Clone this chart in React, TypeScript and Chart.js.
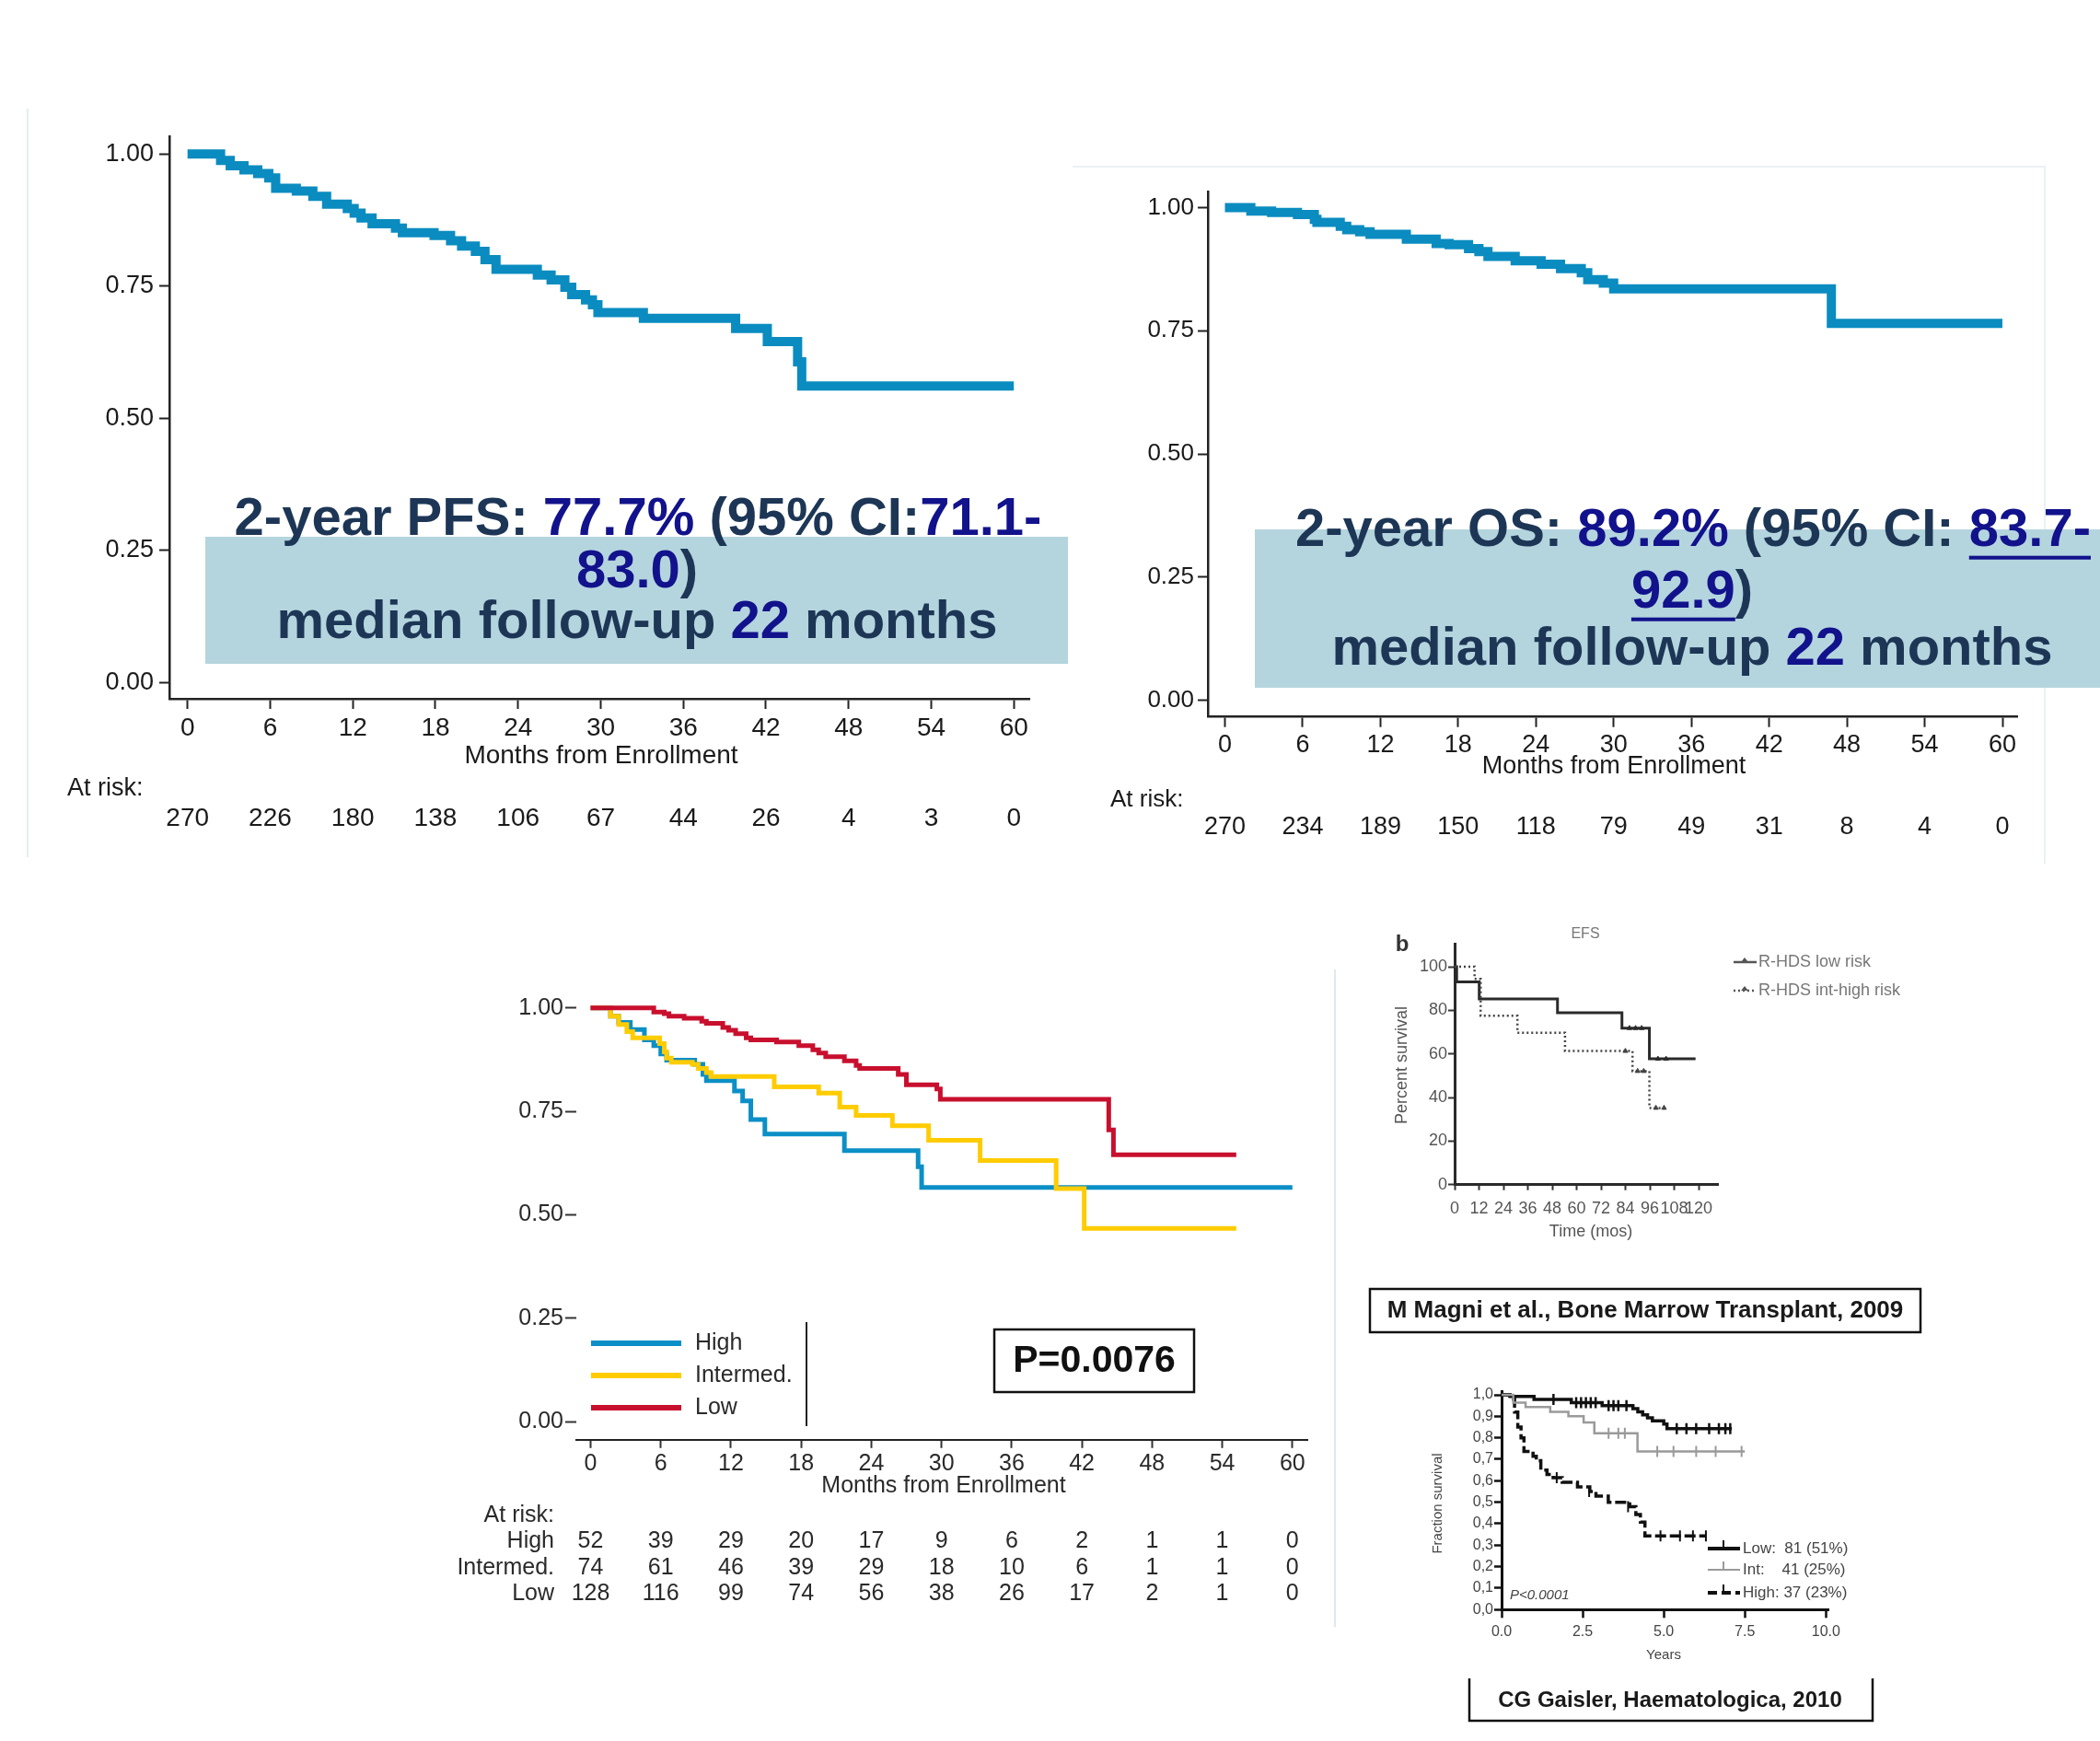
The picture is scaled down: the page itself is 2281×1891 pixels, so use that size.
import React, { useEffect, useRef } from 'react';
import { Chart, registerables } from 'chart.js';

Chart.register(...registerables);

const FONT = "'Liberation Sans', Arial, Helvetica, sans-serif";

// ---------------- data ----------------
const MONTH_TICKS = [0, 6, 12, 18, 24, 30, 36, 42, 48, 54, 60];
const MONTH_LABELS = ['0', '6', '12', '18', '24', '30', '36', '42', '48', '54', '60'];
const SURV_TICKS = [0, 0.25, 0.5, 0.75, 1];
const SURV_LABELS = ['0.00', '0.25', '0.50', '0.75', '1.00'];

const PFS_T = [0, 1.9, 2.4, 3.1, 4.1, 5.1, 5.9, 6.4, 7.9, 9.1, 10.1, 11.6, 12.1, 12.6, 13.4, 15.1, 15.6, 17.9, 19.1, 19.9, 20.9, 21.6, 22.4, 25.4, 26.4, 27.4, 27.9, 28.9, 29.4, 29.8, 33.1, 39.8, 42.1, 44.3, 44.6, 60];
const PFS_S = [1, 1, 0.988, 0.978, 0.97, 0.963, 0.955, 0.935, 0.93, 0.92, 0.905, 0.897, 0.888, 0.879, 0.868, 0.86, 0.851, 0.846, 0.836, 0.826, 0.816, 0.8, 0.782, 0.771, 0.762, 0.748, 0.734, 0.724, 0.715, 0.7, 0.689, 0.67, 0.645, 0.607, 0.561, 0.561];
const PFS_AT_RISK = [270, 226, 180, 138, 106, 67, 44, 26, 4, 3, 0];

const OS_T = [0, 2.0, 3.6, 5.6, 6.9, 7.1, 8.9, 9.4, 10.4, 11.2, 14.0, 16.3, 17.3, 18.8, 19.6, 20.3, 22.4, 24.4, 25.9, 27.5, 28.0, 29.2, 30.0, 46.8, 60];
const OS_S = [1, 0.993, 0.99, 0.986, 0.976, 0.97, 0.962, 0.955, 0.951, 0.946, 0.936, 0.927, 0.925, 0.917, 0.911, 0.901, 0.892, 0.885, 0.876, 0.868, 0.854, 0.847, 0.835, 0.765, 0.765];
const OS_AT_RISK = [270, 234, 189, 150, 118, 79, 49, 31, 8, 4, 0];

const RISK_GROUPS = ['High', 'Intermed.', 'Low'];
const HIGH_T = [0, 1.7, 2.4, 3.4, 4.6, 5.4, 6.0, 6.5, 8.9, 9.6, 9.9, 12.3, 13.0, 13.7, 14.9, 21.7, 28.0, 28.3, 60];
const HIGH_S = [1, 0.98, 0.965, 0.948, 0.923, 0.909, 0.889, 0.874, 0.864, 0.839, 0.824, 0.799, 0.775, 0.73, 0.695, 0.655, 0.616, 0.566, 0.566];
const INTER_T = [0, 1.7, 2.4, 3.1, 3.6, 5.9, 6.3, 6.5, 6.9, 8.7, 9.2, 9.9, 10.3, 15.7, 19.5, 21.3, 22.7, 25.8, 28.9, 33.3, 39.8, 42.2, 55.2];
const INTER_S = [1, 0.98, 0.96, 0.943, 0.928, 0.914, 0.894, 0.879, 0.869, 0.864, 0.854, 0.844, 0.834, 0.809, 0.794, 0.76, 0.74, 0.715, 0.68, 0.631, 0.563, 0.467, 0.467];
const LOW_T = [0, 5.4, 6.3, 6.7, 8.0, 9.5, 9.9, 11.3, 11.8, 12.4, 13.3, 13.7, 15.9, 17.8, 19.0, 19.5, 20.1, 21.7, 22.7, 23.0, 26.3, 27.0, 29.6, 29.9, 44.3, 44.7, 55.2];
const LOW_S = [1, 0.99, 0.986, 0.98, 0.975, 0.968, 0.963, 0.953, 0.946, 0.938, 0.928, 0.923, 0.918, 0.909, 0.899, 0.891, 0.882, 0.872, 0.861, 0.854, 0.839, 0.814, 0.804, 0.779, 0.705, 0.645, 0.645];
const RISK_HIGH = [52, 39, 29, 20, 17, 9, 6, 2, 1, 1, 0];
const RISK_INTER = [74, 61, 46, 39, 29, 18, 10, 6, 1, 1, 0];
const RISK_LOW = [128, 116, 99, 74, 56, 38, 26, 17, 2, 1, 0];
const P_VALUE = 'P=0.0076';

const EFS_X_TICKS = [0, 12, 24, 36, 48, 60, 72, 84, 96, 108, 120];
const EFS_X_LABELS = ['0', '12', '24', '36', '48', '60', '72', '84', '96', '108', '120'];
const EFS_Y_TICKS = [0, 20, 40, 60, 80, 100];
const EFS_Y_LABELS = ['0', '20', '40', '60', '80', '100'];
const EFS_LOW_T = [0, 1, 12.1, 50.6, 82.3, 95.8, 118.5];
const EFS_LOW_S = [100, 93, 85.2, 78.9, 71.8, 57.7, 57.7];
const EFS_INT_T = [0, 9.8, 12.8, 30.9, 54.3, 87.5, 95.8, 103.4];
const EFS_INT_S = [100, 94.4, 77.5, 69.7, 61.3, 52.1, 35.2, 35.2];
const EFS_LOW_CENS_T = [86, 89, 92, 100, 104];
const EFS_LOW_CENS_S = [71.8, 71.8, 71.8, 57.7, 57.7];
const EFS_INT_CENS_T = [84, 90, 93, 99, 103];
const EFS_INT_CENS_S = [61.3, 52.1, 52.1, 35.2, 35.2];
const EFS_LEGEND = ['R-HDS low risk', 'R-HDS int-high risk'];

const GAI_X_TICKS = [0, 2.5, 5, 7.5, 10];
const GAI_X_LABELS = ['0.0', '2.5', '5.0', '7.5', '10.0'];
const GAI_Y_TICKS = [0, 0.1, 0.2, 0.3, 0.4, 0.5, 0.6, 0.7, 0.8, 0.9, 1];
const GAI_Y_LABELS = ['0,0', '0,1', '0,2', '0,3', '0,4', '0,5', '0,6', '0,7', '0,8', '0,9', '1,0'];
const GAI_LOW_T = [0, 0.26, 1.0, 2.15, 3.1, 4.05, 4.2, 4.35, 4.5, 4.65, 5.0, 5.1, 7.1];
const GAI_LOW_S = [1, 0.993, 0.979, 0.964, 0.95, 0.936, 0.921, 0.907, 0.893, 0.879, 0.864, 0.843, 0.843];
const GAI_INT_T = [0, 0.36, 0.74, 1.5, 2.06, 2.53, 2.86, 4.19, 7.5];
const GAI_INT_S = [1, 0.964, 0.943, 0.921, 0.9, 0.871, 0.821, 0.736, 0.736];
const GAI_HIGH_T = [0, 0.26, 0.4, 0.5, 0.6, 0.69, 0.97, 1.07, 1.21, 1.4, 1.59, 1.87, 2.34, 2.72, 2.91, 3.29, 3.95, 4.14, 4.28, 4.42, 6.3];
const GAI_HIGH_S = [1, 0.98, 0.92, 0.85, 0.8, 0.736, 0.714, 0.693, 0.65, 0.629, 0.614, 0.593, 0.571, 0.55, 0.529, 0.5, 0.479, 0.443, 0.407, 0.343, 0.343];
const GAI_LOW_CENS_T = [1.6, 2.3, 2.45, 2.6, 2.75, 2.9, 3.3, 3.45, 3.6, 3.85, 5.4, 5.7, 6.0, 6.4, 6.7, 6.9, 7.05];
const GAI_LOW_CENS_S = [0.979, 0.964, 0.964, 0.964, 0.964, 0.964, 0.95, 0.95, 0.95, 0.95, 0.843, 0.843, 0.843, 0.843, 0.843, 0.843, 0.843];
const GAI_INT_CENS_T = [3.3, 3.6, 3.8, 4.8, 5.3, 6.0, 6.6, 7.4];
const GAI_INT_CENS_S = [0.821, 0.821, 0.821, 0.736, 0.736, 0.736, 0.736, 0.736];
const GAI_HIGH_CENS_T = [1.7, 2.7, 3.9, 4.9, 5.5, 5.9, 6.3];
const GAI_HIGH_CENS_S = [0.614, 0.55, 0.479, 0.343, 0.343, 0.343, 0.343];
const GAI_LEGEND = ['Low:  81 (51%)', 'Int:    41 (25%)', 'High: 37 (23%)'];

// ---------------- helpers ----------------
type Box = { x: number; y: number; w: number; h: number };
type Area = { l: number; t: number; r: number; b: number };

const SLATE = '#1d3656';
const NAVY = '#12128c';

function km(T: number[], S: number[]) {
  return T.map((t, i) => ({ x: t, y: S[i] }));
}

// axis boxes fill all space left of / below the plot area so their labels are not clipped
function padding(box: Box, a: Area) {
  return { left: 0, top: a.t - box.y, right: box.x + box.w - a.r, bottom: 0 };
}

function axis(o: any) {
  return {
    type: 'linear',
    position: o.pos,
    min: o.min,
    max: o.max,
    afterFit: (s: any) => {
      if (o.pos === 'left') s.width = o.space;
      else s.height = o.space;
    },
    afterBuildTicks: (s: any) => {
      s.ticks = o.ticks.map((v: number) => ({ value: v }));
    },
    ticks: {
      autoSkip: false,
      maxRotation: 0,
      minRotation: 0,
      padding: o.pad,
      color: o.color,
      font: { family: FONT, size: o.size, style: o.style || 'normal' },
      callback: (_v: any, i: number) => o.labels[i],
    },
    grid: {
      display: true,
      drawOnChartArea: false,
      drawTicks: true,
      tickLength: o.tickLen,
      tickWidth: o.tickWidth,
      tickColor: o.tickColor,
      color: o.tickColor,
    },
    border: { display: o.border !== false, color: o.borderColor, width: o.borderWidth },
  };
}

function txt(ctx: CanvasRenderingContext2D, s: string, x: number, y: number, size: number, o: any = {}) {
  ctx.font = `${o.style || 'normal'} ${o.weight || 'normal'} ${size}px ${FONT}`;
  ctx.fillStyle = o.color || '#222';
  ctx.textAlign = o.align || 'center';
  ctx.textBaseline = o.baseline || 'middle';
  ctx.fillText(s, x, y);
}

function rich(ctx: CanvasRenderingContext2D, segs: { t: string; c: string; u?: boolean }[], cx: number, y: number, size: number) {
  ctx.font = `bold ${size}px ${FONT}`;
  const widths = segs.map((s) => ctx.measureText(s.t).width);
  const total = widths.reduce((a, b) => a + b, 0);
  let x = cx - total / 2;
  ctx.textAlign = 'left';
  ctx.textBaseline = 'middle';
  segs.forEach((s, i) => {
    ctx.fillStyle = s.c;
    ctx.fillText(s.t, x, y);
    if (s.u) ctx.fillRect(x, y + size * 0.46, widths[i], Math.max(3, size * 0.07));
    x += widths[i];
  });
}

function line(ctx: CanvasRenderingContext2D, x1: number, y1: number, x2: number, y2: number, color: string, w: number, dash: number[] = []) {
  ctx.save();
  ctx.strokeStyle = color;
  ctx.lineWidth = w;
  ctx.setLineDash(dash);
  ctx.beginPath();
  ctx.moveTo(x1, y1);
  ctx.lineTo(x2, y2);
  ctx.stroke();
  ctx.restore();
}

function baseOptions(box: Box, area: Area, scales: any) {
  return {
    animation: false,
    responsive: false,
    devicePixelRatio: 1,
    events: [],
    layout: { padding: padding(box, area) },
    plugins: { legend: { display: false }, tooltip: { enabled: false } },
    scales,
  };
}

function stepDs(T: number[], S: number[], color: string, width: number, dash: number[] = []) {
  return {
    type: 'line',
    data: km(T, S),
    stepped: true,
    borderColor: color,
    borderWidth: width,
    borderDash: dash,
    pointRadius: 0,
    fill: false,
    borderJoinStyle: 'miter',
    borderCapStyle: 'butt',
  };
}

function censDs(T: number[], S: number[], color: string, style: string, radius: number, rot: number, bw: number) {
  return {
    type: 'scatter',
    data: km(T, S),
    showLine: false,
    pointStyle: style,
    pointRadius: radius,
    rotation: rot,
    borderColor: color,
    backgroundColor: color,
    borderWidth: bw,
  };
}

function extras(box: Box, draw: (ctx: CanvasRenderingContext2D, X: (v: number) => number, Y: (v: number) => number) => void) {
  return {
    id: 'extras',
    afterDraw(chart: any) {
      const ctx = chart.ctx as CanvasRenderingContext2D;
      ctx.save();
      ctx.translate(-box.x, -box.y);
      const X = (v: number) => chart.scales.x.getPixelForValue(v) + box.x;
      const Y = (v: number) => chart.scales.y.getPixelForValue(v) + box.y;
      draw(ctx, X, Y);
      ctx.restore();
    },
  };
}

function ChartPanel({ box, make }: { box: Box; make: () => any }) {
  const ref = useRef<HTMLCanvasElement>(null);
  useEffect(() => {
    const chart = new Chart(ref.current as HTMLCanvasElement, make());
    return () => chart.destroy();
  }, []);
  return (
    <canvas
      ref={ref}
      width={box.w}
      height={box.h}
      style={{ position: 'absolute', left: box.x, top: box.y, width: box.w, height: box.h, pointerEvents: 'none' }}
    />
  );
}

// ---------------- panels ----------------
const KM_BLUE = '#0a8cc0';

function makePFS() {
  const box: Box = { x: 0, y: 100, w: 1165, h: 840 };
  const area: Area = { l: 184, t: 148, r: 1118, b: 759 };
  const pxm = (1101.2 - 203.7) / 60;
  const pxu = 741.4 - 167.3;
  const scales = {
    x: axis({ pos: 'bottom', space: box.y + box.h - area.b, min: (184 - 203.7) / pxm, max: 60 + (1118 - 1101.2) / pxm, ticks: MONTH_TICKS, labels: MONTH_LABELS, size: 28, color: '#1a1a1a', tickLen: 11, tickWidth: 2, tickColor: '#222', pad: 4, borderColor: '#222', borderWidth: 2.5 }),
    y: axis({ pos: 'left', space: area.l - box.x, min: -(759 - 741.4) / pxu, max: 1 + (167.3 - 148) / pxu, ticks: SURV_TICKS, labels: SURV_LABELS, size: 27, color: '#1a1a1a', tickLen: 11, tickWidth: 2, tickColor: '#222', pad: 6, borderColor: '#222', borderWidth: 2.5 }),
  };
  return {
    box,
    make: () => ({
      type: 'line',
      data: { datasets: [stepDs(PFS_T, PFS_S, KM_BLUE, 10)] },
      options: baseOptions(box, area, scales),
      plugins: [
        extras(box, (ctx, X) => {
          txt(ctx, 'Months from Enrollment', 653, 821, 28, { color: '#1a1a1a' });
          txt(ctx, 'At risk:', 73, 857, 27, { align: 'left', color: '#1a1a1a' });
          PFS_AT_RISK.forEach((n, i) => txt(ctx, String(n), X(MONTH_TICKS[i]), 889, 28, { color: '#1a1a1a' }));
          ctx.fillStyle = '#b4d5de';
          ctx.fillRect(223, 583, 937, 138);
          rich(ctx, [{ t: '2-year PFS: ', c: SLATE }, { t: '77.7%', c: NAVY }, { t: ' (95% CI:', c: SLATE }, { t: '71.1-', c: NAVY }], 693, 565, 58);
          rich(ctx, [{ t: '83.0', c: NAVY }, { t: ')', c: SLATE }], 692, 622, 58);
          rich(ctx, [{ t: 'median follow-up ', c: SLATE }, { t: '22', c: NAVY }, { t: ' months', c: SLATE }], 692, 677, 58);
        }),
      ],
    }),
  };
}

function makeOS() {
  const box: Box = { x: 1165, y: 170, w: 1116, h: 770 };
  const area: Area = { l: 1312, t: 208, r: 2191.6, b: 778.7 };
  const pxm = (2175 - 1330.5) / 60;
  const pxu = 760.7 - 225.5;
  const scales = {
    x: axis({ pos: 'bottom', space: box.y + box.h - area.b, min: (1312 - 1330.5) / pxm, max: 60 + (2191.6 - 2175) / pxm, ticks: MONTH_TICKS, labels: MONTH_LABELS, size: 27, color: '#1a1a1a', tickLen: 11, tickWidth: 2, tickColor: '#222', pad: 4, borderColor: '#222', borderWidth: 2.5 }),
    y: axis({ pos: 'left', space: area.l - box.x, min: -(778.7 - 760.7) / pxu, max: 1 + (225.5 - 208) / pxu, ticks: SURV_TICKS, labels: SURV_LABELS, size: 26, color: '#1a1a1a', tickLen: 11, tickWidth: 2, tickColor: '#222', pad: 4, borderColor: '#222', borderWidth: 2.5 }),
  };
  return {
    box,
    make: () => ({
      type: 'line',
      data: { datasets: [stepDs(OS_T, OS_S, KM_BLUE, 10)] },
      options: baseOptions(box, area, scales),
      plugins: [
        extras(box, (ctx, X) => {
          txt(ctx, 'Months from Enrollment', 1753, 833, 27, { color: '#1a1a1a' });
          txt(ctx, 'At risk:', 1206, 869, 26, { align: 'left', color: '#1a1a1a' });
          OS_AT_RISK.forEach((n, i) => txt(ctx, String(n), X(MONTH_TICKS[i]), 899, 27, { color: '#1a1a1a' }));
          ctx.fillStyle = '#b4d5de';
          ctx.fillRect(1363, 575, 918, 172);
          rich(ctx, [{ t: '2-year OS: ', c: SLATE }, { t: '89.2%', c: NAVY }, { t: ' (95% CI: ', c: SLATE }, { t: '83.7-', c: NAVY, u: true }], 1839, 577, 58);
          rich(ctx, [{ t: '92.9', c: NAVY, u: true }, { t: ')', c: SLATE }], 1838, 644, 58);
          rich(ctx, [{ t: 'median follow-up ', c: SLATE }, { t: '22', c: NAVY }, { t: ' months', c: SLATE }], 1838, 706, 58);
        }),
      ],
    }),
  };
}

const C_HIGH = '#0b8fc6';
const C_INTER = '#ffcc00';
const C_LOW = '#c8102e';

function makeRisk() {
  const box: Box = { x: 470, y: 1060, w: 980, h: 700 };
  const area: Area = { l: 626, t: 1080, r: 1420, b: 1563.8 };
  const pxm = (1403.8 - 641.5) / 60;
  const pxu = 1544 - 1094.8;
  const scales = {
    x: axis({ pos: 'bottom', space: box.y + box.h - area.b, min: (626 - 641.5) / pxm, max: 60 + (1420 - 1403.8) / pxm, ticks: MONTH_TICKS, labels: MONTH_LABELS, size: 25, color: '#2a2a2a', tickLen: 9, tickWidth: 2, tickColor: '#333', pad: 2, borderColor: '#222', borderWidth: 2 }),
    y: axis({ pos: 'left', space: area.l - box.x, min: -(1563.8 - 1544) / pxu, max: 1 + (1094.8 - 1080) / pxu, ticks: SURV_TICKS, labels: SURV_LABELS, size: 25, color: '#2a2a2a', tickLen: 12, tickWidth: 2, tickColor: '#333', pad: 2, border: false, borderColor: '#222', borderWidth: 2 }),
  };
  return {
    box,
    make: () => ({
      type: 'line',
      data: {
        datasets: [stepDs(LOW_T, LOW_S, C_LOW, 5), stepDs(INTER_T, INTER_S, C_INTER, 5), stepDs(HIGH_T, HIGH_S, C_HIGH, 5)],
      },
      options: baseOptions(box, area, scales),
      plugins: [
        extras(box, (ctx, X) => {
          const tc = '#2a2a2a';
          txt(ctx, 'Months from Enrollment', 1025, 1614, 25, { color: tc });
          txt(ctx, 'At risk:', 602, 1646, 25, { align: 'right', color: tc });
          const rows = [RISK_HIGH, RISK_INTER, RISK_LOW];
          const ys = [1674, 1703, 1731];
          rows.forEach((r, k) => {
            txt(ctx, RISK_GROUPS[k], 602, ys[k], 25, { align: 'right', color: tc });
            r.forEach((n, i) => txt(ctx, String(n), X(MONTH_TICKS[i]), ys[k], 25, { color: tc }));
          });
          // legend
          const cols = [C_HIGH, C_INTER, C_LOW];
          const ly = [1459, 1494, 1529];
          cols.forEach((c, k) => {
            line(ctx, 642, ly[k], 740, ly[k], c, 6);
            txt(ctx, RISK_GROUPS[k], 755, ly[k], 25, { align: 'left', color: tc });
          });
          line(ctx, 876, 1436, 876, 1549, '#222', 2);
          // p-value box
          ctx.strokeStyle = '#111';
          ctx.lineWidth = 2.5;
          ctx.strokeRect(1080, 1444, 217, 68);
          txt(ctx, P_VALUE, 1188.5, 1479, 41, { weight: 'bold', color: '#111' });
        }),
      ],
    }),
  };
}

function makeEFS() {
  const box: Box = { x: 1450, y: 990, w: 831, h: 470 };
  const area: Area = { l: 1580, t: 1025, r: 1866.7, b: 1286.7 };
  const pxm = (1845 - 1580) / 120;
  const pxu = (1286.7 - 1050) / 100;
  const gray = '#555';
  const scales = {
    x: axis({ pos: 'bottom', space: box.y + box.h - area.b, min: 0, max: (1866.7 - 1580) / pxm, ticks: EFS_X_TICKS, labels: EFS_X_LABELS, size: 18, color: gray, tickLen: 6, tickWidth: 2, tickColor: '#333', pad: 10, borderColor: '#2a2a2a', borderWidth: 3 }),
    y: axis({ pos: 'left', space: area.l - box.x, min: 0, max: 100 + 25 / pxu, ticks: EFS_Y_TICKS, labels: EFS_Y_LABELS, size: 18, color: gray, tickLen: 7, tickWidth: 2, tickColor: '#333', pad: 1, borderColor: '#2a2a2a', borderWidth: 3 }),
  };
  return {
    box,
    make: () => ({
      type: 'line',
      data: {
        datasets: [
          stepDs(EFS_INT_T, EFS_INT_S, '#444', 2.5, [2, 3]),
          stepDs(EFS_LOW_T, EFS_LOW_S, '#2a2a2a', 3),
          censDs(EFS_LOW_CENS_T, EFS_LOW_CENS_S, '#333', 'triangle', 3, 0, 1),
          censDs(EFS_INT_CENS_T, EFS_INT_CENS_S, '#444', 'triangle', 3, 0, 1),
        ],
      },
      options: baseOptions(box, area, scales),
      plugins: [
        extras(box, (ctx) => {
          txt(ctx, 'b', 1523, 1026, 24, { weight: 'bold', color: '#333' });
          txt(ctx, 'EFS', 1722, 1015, 16, { color: '#777' });
          txt(ctx, 'Time (mos)', 1728, 1338, 18, { color: gray });
          ctx.save();
          ctx.translate(1523, 1157);
          ctx.rotate(-Math.PI / 2);
          txt(ctx, 'Percent survival', 0, 0, 18, { color: gray });
          ctx.restore();
          // legend
          const ly = [1045, 1076];
          line(ctx, 1883, ly[0], 1908, ly[0], '#555', 2.5);
          line(ctx, 1883, ly[1], 1908, ly[1], '#555', 2.5, [2, 3]);
          [0, 1].forEach((k) => {
            ctx.fillStyle = '#555';
            ctx.beginPath();
            ctx.moveTo(1895, ly[k] - 5);
            ctx.lineTo(1899, ly[k]);
            ctx.lineTo(1891, ly[k]);
            ctx.closePath();
            ctx.fill();
            txt(ctx, EFS_LEGEND[k], 1910, ly[k], 18, { align: 'left', color: '#777' });
          });
          // citation
          ctx.strokeStyle = '#111';
          ctx.lineWidth = 2.5;
          ctx.strokeRect(1488, 1400, 598, 47);
          txt(ctx, 'M Magni et al., Bone Marrow Transplant, 2009', 1787, 1424, 26, { weight: 'bold', color: '#1a1a1a' });
        }),
      ],
    }),
  };
}

function makeGai() {
  const box: Box = { x: 1450, y: 1490, w: 831, h: 400 };
  const area: Area = { l: 1631, t: 1511.7, r: 1986.7, b: 1748.3 };
  const pxy = (1983.3 - 1631) / 10;
  const pxu = 1748.3 - 1515;
  const gray = '#444';
  const scales = {
    x: axis({ pos: 'bottom', space: box.y + box.h - area.b, min: 0, max: (1986.7 - 1631) / pxy, ticks: GAI_X_TICKS, labels: GAI_X_LABELS, size: 16, color: gray, tickLen: 9, tickWidth: 2.5, tickColor: '#111', pad: 6, borderColor: '#111', borderWidth: 3 }),
    y: axis({ pos: 'left', space: area.l - box.x, min: 0, max: 1 + 3.3 / pxu, ticks: GAI_Y_TICKS, labels: GAI_Y_LABELS, size: 16, color: gray, tickLen: 8, tickWidth: 2.5, tickColor: '#111', pad: 1, borderColor: '#111', borderWidth: 3 }),
  };
  return {
    box,
    make: () => ({
      type: 'line',
      data: {
        datasets: [
          stepDs(GAI_INT_T, GAI_INT_S, '#9a9a9a', 2.5),
          stepDs(GAI_HIGH_T, GAI_HIGH_S, '#111', 3.5, [12, 4]),
          stepDs(GAI_LOW_T, GAI_LOW_S, '#111', 3.5),
          censDs(GAI_INT_CENS_T, GAI_INT_CENS_S, '#9a9a9a', 'line', 6, 90, 2),
          censDs(GAI_LOW_CENS_T, GAI_LOW_CENS_S, '#111', 'line', 6, 90, 2.5),
          censDs(GAI_HIGH_CENS_T, GAI_HIGH_CENS_S, '#111', 'line', 6, 90, 2),
        ],
      },
      options: baseOptions(box, area, scales),
      plugins: [
        extras(box, (ctx) => {
          txt(ctx, 'Years', 1807, 1798, 15, { color: gray });
          ctx.save();
          ctx.translate(1562, 1633);
          ctx.rotate(-Math.PI / 2);
          txt(ctx, 'Fraction survival', 0, 0, 15, { color: gray });
          ctx.restore();
          txt(ctx, 'P<0.0001', 1640, 1733, 15, { align: 'left', style: 'italic', color: gray });
          const ly = [1682, 1705, 1730];
          line(ctx, 1855, ly[0], 1890, ly[0], '#111', 4);
          line(ctx, 1855, ly[1], 1890, ly[1], '#9a9a9a', 2);
          line(ctx, 1855, ly[2], 1890, ly[2], '#111', 4, [10, 5]);
          line(ctx, 1872, ly[0] - 9, 1872, ly[0], '#111', 2);
          line(ctx, 1872, ly[1] - 9, 1872, ly[1], '#9a9a9a', 2);
          line(ctx, 1872, ly[2] - 9, 1872, ly[2], '#111', 2);
          GAI_LEGEND.forEach((s, k) => txt(ctx, s, 1893, ly[k], 17, { align: 'left', color: gray }));
          // citation (open top)
          ctx.strokeStyle = '#111';
          ctx.lineWidth = 2.5;
          ctx.beginPath();
          ctx.moveTo(1596, 1823);
          ctx.lineTo(1596, 1869);
          ctx.lineTo(2034, 1869);
          ctx.lineTo(2034, 1823);
          ctx.stroke();
          txt(ctx, 'CG Gaisler, Haematologica, 2010', 1814, 1847, 24, { weight: 'bold', color: '#1a1a1a' });
        }),
      ],
    }),
  };
}

const PANELS = [makePFS(), makeOS(), makeRisk(), makeEFS(), makeGai()];

const FAINT_LINES = [
  { left: 29, top: 118, width: 2, height: 813, background: '#e3edf0' },
  { left: 1165, top: 180, width: 1056, height: 2, background: '#eaf1f3' },
  { left: 2220, top: 180, width: 2, height: 758, background: '#eaf1f3' },
  { left: 1449, top: 1053, width: 2, height: 714, background: '#dde9ee' },
];

export default function App() {
  useEffect(() => {
    document.body.style.margin = '0';
  }, []);
  return (
    <div style={{ position: 'absolute', left: 0, top: 0, width: 2281, height: 1891, background: '#ffffff', overflow: 'hidden' }}>
      {FAINT_LINES.map((s, i) => (
        <div key={i} style={{ position: 'absolute', ...s }} />
      ))}
      {PANELS.map((p, i) => (
        <ChartPanel key={i} box={p.box} make={p.make} />
      ))}
    </div>
  );
}
